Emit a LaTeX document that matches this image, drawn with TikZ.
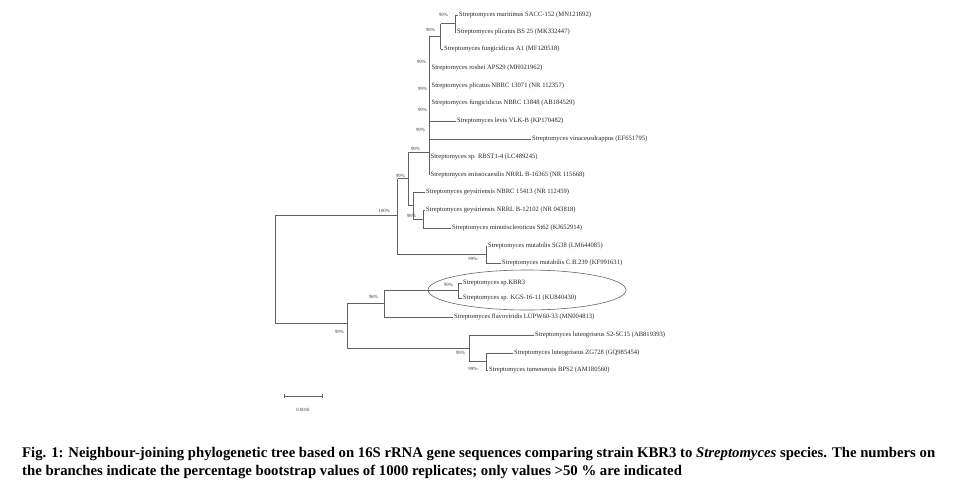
\documentclass[tikz,border=0pt]{standalone}
\usepackage{fontspec}
\setmainfont{Liberation Serif}
\begin{document}
\begin{tikzpicture}[x=1pt,y=-1pt,
  br/.style={draw=black!62, line width=0.65pt},
  leaf/.style={anchor=west, inner xsep=1.5pt, inner ysep=0pt, text=black!85, font=\fontsize{6.6}{7}\selectfont},
  bs/.style={anchor=east, inner sep=0pt, text=black!80, font=\fontsize{4.8}{5}\selectfont}]
\useasboundingbox (0,0) rectangle (974,482);
% leaves
\node[leaf] (l1) at (457.5,15) {Streptomyces maritimus SACC-152 (MN121692)};
\node[leaf] (l2) at (455.5,32) {Streptomyces plicatus BS 25 (MK332447)};
\node[leaf] (l3) at (442.5,49) {Streptomyces fungicidicus A1 (MF120518)};
\node[leaf] (l4) at (430,68) {Streptomyces roshei APS29 (MH021962)};
\node[leaf] (l5) at (430,86) {Streptomyces plicatus NBRC 13071 (NR 112357)};
\node[leaf] (l6) at (430,103) {Streptomyces fungicidicus NBRC 13848 (AB184529)};
\node[leaf] (l7) at (455.5,121) {Streptomyces levis VLK-B (KP170482)};
\node[leaf] (l8) at (530.5,139) {Streptomyces vinaceusdrappus (EF651795)};
\node[leaf] (l9) at (429,157) {Streptomyces sp. RBST1-4 (LC489245)};
\node[leaf] (l10) at (429,175) {Streptomyces enissocaesilis NRRL B-16365 (NR 115668)};
\node[leaf] (l11) at (424.5,192) {Streptomyces geysiriensis NBRC 15413 (NR 112459)};
\node[leaf] (l12) at (424.5,210) {Streptomyces geysiriensis NRRL B-12102 (NR 043818)};
\node[leaf] (l13) at (450.5,228) {Streptomyces minutiscleroticus St62 (KJ652914)};
\node[leaf] (l14) at (486.5,246) {Streptomyces mutabilis SG38 (LM644085)};
\node[leaf] (l15) at (500.5,263) {Streptomyces mutabilis C.B.239 (KF991631)};
\node[leaf] (l16) at (461.5,283) {Streptomyces sp.KBR3};
\node[leaf] (l17) at (461.5,298) {Streptomyces sp. KGS-16-11 (KU840430)};
\node[leaf] (l18) at (452.5,317) {Streptomyces flavoviridis LUPW60-33 (MN004813)};
\node[leaf] (l19) at (533.5,335) {Streptomyces luteogriseus S2-SC15 (AB819393)};
\node[leaf] (l20) at (512.5,353) {Streptomyces luteogriseus ZG728 (GQ985454)};
\node[leaf] (l21) at (487.5,370) {Streptomyces tumenensis BPS2 (AM180560)};
% internal nodes (x, attachment y)
\coordinate (n1) at (455,23.5);
\coordinate (n2) at (440.5,36.25);
\coordinate (bb) at (429,152);
\coordinate (B) at (423,219);
\coordinate (A) at (413,205.5);
\coordinate (Q) at (408,178.75);
\coordinate (M) at (486,254.5);
\coordinate (P) at (397.5,215);
\coordinate (KB) at (458,290.5);
\coordinate (K) at (384,303.5);
\coordinate (V) at (486,361.5);
\coordinate (U) at (469,348.25);
\coordinate (L) at (347,323);
\coordinate (R) at (275,215);
% branches
\draw[br] (n1 |- l1) -- (n1 |- l2);
\draw[br] (n1 |- l1) -- (l1.west);
\draw[br] (n1 |- l2) -- (l2.west);
\draw[br] (n2 |- n1) -- (n2 |- l3);
\draw[br] (n2 |- n1) -- (n1);
\draw[br] (n2 |- l3) -- (l3.west);
\draw[br] (bb |- n2) -- (bb |- l10);
\draw[br] (bb |- n2) -- (n2);
\foreach \l in {l4,l5,l6,l7,l8,l9,l10} \draw[br] (bb |- \l) -- (\l.west);
\draw[br] (B |- l12) -- (B |- l13);
\draw[br] (B |- l12) -- (l12.west);
\draw[br] (B |- l13) -- (l13.west);
\draw[br] (A |- l11) -- (A |- B);
\draw[br] (A |- l11) -- (l11.west);
\draw[br] (A |- B) -- (B);
\draw[br] (Q |- bb) -- (Q |- A);
\draw[br] (Q |- bb) -- (bb);
\draw[br] (Q |- A) -- (A);
\draw[br] (M |- l14) -- (M |- l15);
\draw[br] (M |- l14) -- (l14.west);
\draw[br] (M |- l15) -- (l15.west);
\draw[br] (P |- Q) -- (P |- M);
\draw[br] (P |- Q) -- (Q);
\draw[br] (P |- M) -- (M);
\draw[br] (KB |- l16) -- (KB |- l17);
\draw[br] (KB |- l16) -- (l16.west);
\draw[br] (KB |- l17) -- (l17.west);
\draw[br] (K |- KB) -- (K |- l18);
\draw[br] (K |- KB) -- (KB);
\draw[br] (K |- l18) -- (l18.west);
\draw[br] (V |- l20) -- (V |- l21);
\draw[br] (V |- l20) -- (l20.west);
\draw[br] (V |- l21) -- (l21.west);
\draw[br] (U |- l19) -- (U |- V);
\draw[br] (U |- l19) -- (l19.west);
\draw[br] (U |- V) -- (V);
\draw[br] (L |- K) -- (L |- U);
\draw[br] (L |- K) -- (K);
\draw[br] (L |- U) -- (U);
\draw[br] (R |- P) -- (R |- L);
\draw[br] (R |- P) -- (P);
\draw[br] (R |- L) -- (L);
% bootstrap values
\node[bs] (b1) at (448,15) {99\%};
\node[bs] (b2) at (435,30) {98\%};
\node[bs] (b3) at (426,62) {99\%};
\node[bs] (b4) at (427,89) {99\%};
\node[bs] (b5) at (427,110) {99\%};
\node[bs] (b6) at (425,130) {99\%};
\node[bs] (b7) at (420,149) {99\%};
\node[bs] (b8) at (405,176) {99\%};
\node[bs] (b9) at (390,211) {100\%};
\node[bs] (b10) at (416,216) {98\%};
\node[bs] (b11) at (479,259) {99\%-};
\node[bs] (b12) at (453,285) {99\%};
\node[bs] (b13) at (378,297) {98\%};
\node[bs] (b14) at (344,332) {99\%};
\node[bs] (b15) at (465,353) {99\%};
\node[bs] (b16) at (479,369) {99\%-};
% highlight ellipse
\draw[draw=black!60, line width=0.6pt] (527,290) ellipse [x radius=99, y radius=20];
% scale bar
\coordinate (s1) at (284,396);
\coordinate (s2) at (322,396);
\draw[br] (s1) -- (s2);
\draw[br] ([yshift=-1.8pt]s1) -- ([yshift=1.8pt]s1);
\draw[br] ([yshift=-1.8pt]s2) -- ([yshift=1.8pt]s2);
\node[inner sep=0pt, text=black!80, font=\fontsize{4.8}{5}\selectfont] (sl) at (303,410) {0.0010};
% caption
\node[anchor=north west, inner sep=0pt] (cap) at (22,445) {\resizebox{913pt}{!}{\fontsize{14}{17}\selectfont\bfseries\begin{tabular}{@{}l@{}}Fig. 1: Neighbour-joining phylogenetic tree based on 16S rRNA gene sequences comparing strain KBR3 to \textit{Streptomyces} species. The numbers on\\the branches indicate the percentage bootstrap values of 1000 replicates; only values \textgreater50 \% are indicated\end{tabular}}};
\end{tikzpicture}
\end{document}
